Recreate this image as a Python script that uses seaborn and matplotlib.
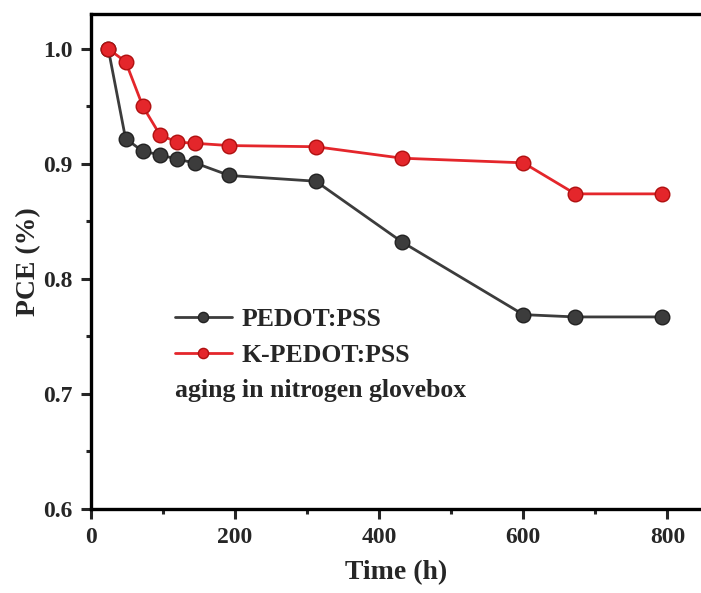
import matplotlib
matplotlib.use("Agg")
import matplotlib.pyplot as plt
import seaborn as sns
import pandas as pd
from matplotlib.ticker import MultipleLocator

time_h = [24, 48, 72, 96, 120, 144, 192, 312, 432, 600, 672, 792]
pce_pedot = [1.000, 0.922, 0.911, 0.908, 0.904, 0.901, 0.890, 0.885, 0.832, 0.769, 0.767, 0.767]
pce_kpedot = [1.000, 0.989, 0.950, 0.925, 0.919, 0.918, 0.916, 0.915, 0.905, 0.901, 0.874, 0.874]
series_names = ["PEDOT:PSS", "K-PEDOT:PSS"]
colors = {"PEDOT:PSS": "#3c3c3c", "K-PEDOT:PSS": "#e4262b"}
edge_colors = {"PEDOT:PSS": "#222222", "K-PEDOT:PSS": "#b01010"}

df = pd.concat([
    pd.DataFrame({"Time": time_h, "PCE": pce_pedot, "Device": series_names[0]}),
    pd.DataFrame({"Time": time_h, "PCE": pce_kpedot, "Device": series_names[1]}),
])

sns.set_style("white")
plt.rcParams["font.family"] = ["Liberation Serif", "DejaVu Serif"]
plt.rcParams["font.weight"] = "bold"

fig = plt.figure(figsize=(7.01, 5.93), dpi=100)
ax = fig.add_axes([91/701, 1 - 509/593, 1 - 91/701, (509 - 14)/593])

for name in series_names:
    sub = df[df["Device"] == name]
    sns.lineplot(data=sub, x="Time", y="PCE", ax=ax, color=colors[name],
                 marker="o", markersize=10.5, markeredgecolor=edge_colors[name],
                 markeredgewidth=1.0, linewidth=2.0, label=name)

ax.set_xlim(0, 846.5)
ax.set_ylim(0.6, 1.0304)
ax.xaxis.set_major_locator(MultipleLocator(200))
ax.xaxis.set_minor_locator(MultipleLocator(100))
ax.yaxis.set_major_locator(MultipleLocator(0.1))
ax.yaxis.set_minor_locator(MultipleLocator(0.05))
ax.yaxis.set_major_formatter(matplotlib.ticker.FormatStrFormatter("%.1f"))

for side in ["left", "bottom", "top"]:
    ax.spines[side].set_linewidth(2.4)
    ax.spines[side].set_color("black")
ax.spines["right"].set_visible(False)

ax.tick_params(axis="both", which="major", direction="out", length=7, width=2.2,
               labelsize=17, bottom=True, left=True, top=False, right=False)
ax.tick_params(axis="x", which="major", pad=6)
ax.tick_params(axis="y", which="major", pad=6)
ax.tick_params(axis="both", which="minor", direction="out", length=3.5, width=2.2,
               bottom=True, left=True, top=False, right=False)
for lbl in ax.get_xticklabels() + ax.get_yticklabels():
    lbl.set_fontweight("bold")

ax.set_xlabel("Time (h)", fontsize=20, fontweight="bold", labelpad=9)
ax.set_ylabel("PCE (%)", fontsize=20, fontweight="bold", labelpad=2)

leg = ax.legend(loc="center left", bbox_to_anchor=(0.1377, 0.3465), frameon=False,
                prop={"size": 18.5, "weight": "bold"}, handlelength=2.2,
                handletextpad=0.4, labelspacing=0.5, borderaxespad=0, borderpad=0,
                markerscale=0.7)
ax.text(116, 0.703, "aging in nitrogen glovebox", fontsize=18.5, fontweight="bold",
        ha="left", va="center")

fig.savefig("out.png", dpi=100)
